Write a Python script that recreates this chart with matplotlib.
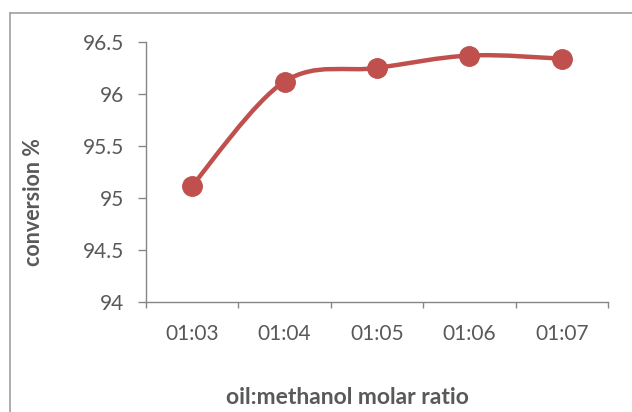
import matplotlib
matplotlib.use("Agg")
import matplotlib.pyplot as plt
from matplotlib.path import Path
from matplotlib.patches import PathPatch
from matplotlib.lines import Line2D
import numpy as np

categories = ["01:03", "01:04", "01:05", "01:06", "01:07"]
conversion = [95.12, 96.12, 96.25, 96.37, 96.34]
y_ticks = [94, 94.5, 95, 95.5, 96, 96.5]
y_tick_labels = ["94", "94.5", "95", "95.5", "96", "96.5"]

plt.rcParams['font.family'] = ['Lato', 'DejaVu Sans']
TXT = "#595959"
AX = "#868686"
RED = "#C0504D"

fig = plt.figure(figsize=(6.32, 4.12), dpi=100)
ax = fig.add_axes([146/632, 1-302/412, (608-146)/632, (302-42)/412])

xs = np.arange(len(categories)) + 0.5
ys = np.array(conversion)

# Excel-like smoothed line via cubic Bezier segments
pts = np.column_stack([xs, ys])
verts = [tuple(pts[0])]
codes = [Path.MOVETO]
n = len(pts)
for i in range(n - 1):
    p0 = pts[i - 1] if i > 0 else pts[i]
    p1 = pts[i]
    p2 = pts[i + 1]
    p3 = pts[i + 2] if i + 2 < n else pts[i + 1]
    c1 = p1 + (p2 - p0) / 6.0
    c2 = p2 - (p3 - p1) / 6.0
    verts += [tuple(c1), tuple(c2), tuple(p2)]
    codes += [Path.CURVE4] * 3
ax.add_patch(PathPatch(Path(verts, codes), facecolor="none", edgecolor=RED,
                       lw=3.2, capstyle="round", joinstyle="round", zorder=3))
ax.plot(xs, ys, linestyle="none", marker="o", markersize=14,
        color=RED, markeredgecolor=RED, zorder=4, clip_on=False)

ax.set_xlim(0, len(categories))
ax.set_ylim(94, 96.5)
ax.set_yticks(y_ticks)
ax.set_yticklabels(y_tick_labels)
ax.set_xticks(np.arange(len(categories) + 1))
ax.set_xticklabels([""] * (len(categories) + 1))
ax.set_xticks(xs, minor=True)
ax.set_xticklabels(categories, minor=True)

for s in ["top", "right"]:
    ax.spines[s].set_visible(False)
for s in ["left", "bottom"]:
    ax.spines[s].set_color(AX)
    ax.spines[s].set_linewidth(1.0)

ax.tick_params(axis="y", which="major", direction="out", length=6, width=1,
               color=AX, labelcolor=TXT, labelsize=15, pad=10)
ax.tick_params(axis="x", which="major", direction="out", length=4, width=1,
               color=AX)
ax.tick_params(axis="x", which="minor", length=0, labelcolor=TXT,
               labelsize=15, pad=16)

fig.text(33/632, 1-202/412, "conversion %", rotation=90, ha="center",
         va="center", fontsize=15.5, fontweight="bold", color=TXT)
fig.text(347/632, 1-397/412, "oil:methanol molar ratio", ha="center",
         va="center", fontsize=16.5, fontweight="bold", color=TXT)

# chart area border (partially visible)
fig.add_artist(Line2D([10.5/632, 10.5/632], [0, 1-12.5/412], color="#A0A0A0",
                      lw=1.2, transform=fig.transFigure))
fig.add_artist(Line2D([10.5/632, 1], [1-12.5/412, 1-12.5/412], color="#A0A0A0",
                      lw=1.2, transform=fig.transFigure))

fig.savefig("out.png", dpi=100)
